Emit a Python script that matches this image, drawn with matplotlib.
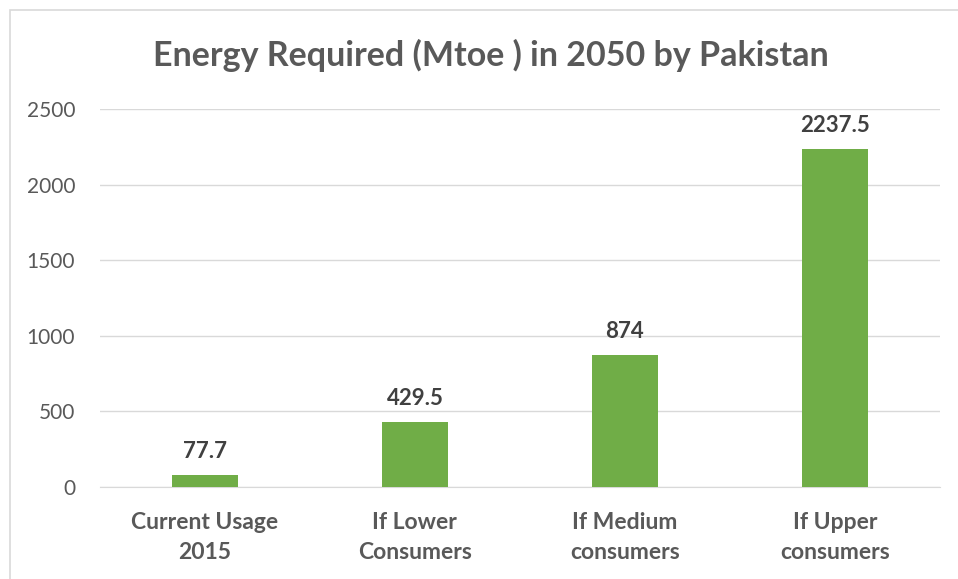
import matplotlib.pyplot as plt
from matplotlib.patches import Rectangle

categories = ["Current Usage\n2015", "If Lower\nConsumers", "If Medium\nconsumers", "If Upper\nconsumers"]
values = [77.7, 429.5, 874, 2237.5]
value_labels = ["77.7", "429.5", "874", "2237.5"]
yticks = [0, 500, 1000, 1500, 2000, 2500]

plt.rcParams["font.family"] = ["Lato", "DejaVu Sans"]

fig = plt.figure(figsize=(9.58, 5.79), dpi=100)
ax = fig.add_axes([0.1044, 0.1589, 0.8766, 0.6528])

# chart border (only left/top visible in the crop)
fig.add_artist(Rectangle((10 / 958, -0.05), 1.2, (579 - 10) / 579 + 0.05,
                         transform=fig.transFigure, fill=False,
                         edgecolor="#d9d9d9", linewidth=1.2))

x = range(len(categories))
ax.bar(x, values, width=0.314, color="#70ad47", zorder=3)
for i, v in enumerate(values):
    ax.text(i, v + 85, value_labels[i], ha="center", va="bottom",
            fontsize=16, fontweight="bold", color="#404040")

ax.set_xlim(-0.5, len(categories) - 0.5)
ax.set_ylim(0, 2500)
ax.set_yticks(yticks)
ax.set_yticklabels([str(t) for t in yticks])
ax.set_xticks(list(x))
ax.set_xticklabels(categories, fontsize=16.5, fontweight="bold", color="#595959",
                   linespacing=1.55)
ax.tick_params(axis="y", labelsize=15, labelcolor="#595959", length=0, pad=18)
ax.tick_params(axis="x", length=0, pad=18)
ax.grid(axis="y", color="#d9d9d9", linewidth=1, zorder=0)
for s in ["top", "right", "left"]:
    ax.spines[s].set_visible(False)
ax.spines["bottom"].set_color("#d9d9d9")

fig.text(0.512, 0.905, "Energy Required (Mtoe ) in 2050 by Pakistan",
         ha="center", va="center", fontsize=24.5, fontweight="bold", color="#595959")

fig.savefig("out.png", dpi=100)
